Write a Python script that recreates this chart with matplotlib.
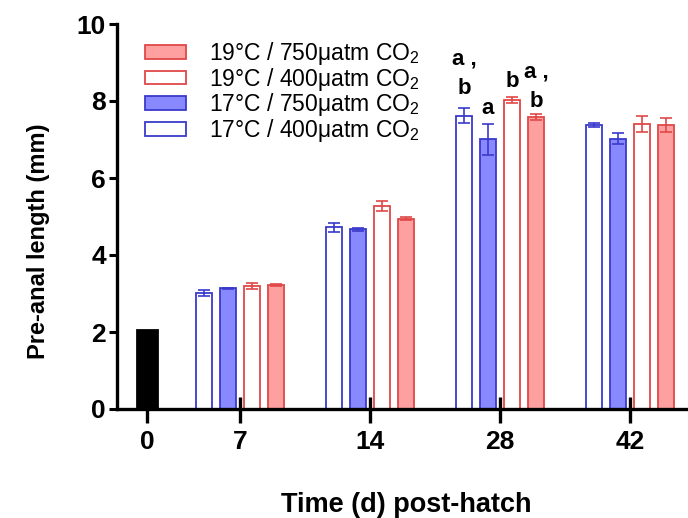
import matplotlib
matplotlib.use("Agg")
from matplotlib import pyplot as plt
from matplotlib.patches import Patch

plt.rcParams['font.family'] = ['Liberation Sans', 'DejaVu Sans']
plt.rcParams['mathtext.fontset'] = 'custom'
plt.rcParams['mathtext.rm'] = 'Liberation Sans'

# data
days = ["0", "7", "14", "28", "42"]
day0_value = 2.05

# order: 17C/400, 17C/750, 19C/400, 19C/750 ; days 7, 14, 28, 42
t17_400 = [3.02, 4.72, 7.62, 7.38]
t17_400_err = [0.08, 0.12, 0.2, 0.05]
t17_750 = [3.13, 4.67, 7.01, 7.02]
t17_750_err = [0.02, 0.04, 0.4, 0.14]
t19_400 = [3.20, 5.27, 8.03, 7.40]
t19_400_err = [0.08, 0.14, 0.08, 0.2]
t19_750 = [3.22, 4.94, 7.58, 7.37]
t19_750_err = [0.03, 0.04, 0.08, 0.18]

# significance letters at day 28
letters = ["a ,\nb", "a", "b", "a ,\nb"]

labels = ["19°C / 750μatm CO$_2$", "19°C / 400μatm CO$_2$",
          "17°C / 750μatm CO$_2$", "17°C / 400μatm CO$_2$"]

# layout
group_x = [1, 2, 3, 4]
day0_x = 0.285
tick_x = [day0_x] + group_x
width = 0.125
offsets = [-0.277, -0.0923, 0.0923, 0.277]

blue_edge = "#3a3acc"
blue_fill = "#8888ff"
red_edge = "#e04848"
red_fill = "#ffa0a0"

series = [
    (t17_400, t17_400_err, "white", blue_edge),
    (t17_750, t17_750_err, blue_fill, blue_edge),
    (t19_400, t19_400_err, "white", red_edge),
    (t19_750, t19_750_err, red_fill, red_edge),
]

fig = plt.figure(figsize=(6.88, 5.18), dpi=100)
ax = fig.add_axes([117/688, 1 - 409/518, 1 - 117/688, 385/518])
ax.set_axisbelow(False)

ax.bar(day0_x, day0_value, width=0.15, color="black", edgecolor="black", linewidth=2)

for (vals, errs, fc, ec), off in zip(series, offsets):
    xs = [g + off for g in group_x]
    ax.bar(xs, vals, width=width, color=fc, edgecolor=ec, linewidth=1.3, zorder=2)
    ax.errorbar(xs, vals, yerr=errs, fmt="none", ecolor=ec, elinewidth=1.2,
                capsize=4, capthick=1.2, zorder=3)

# letters above day 28 bars
letter_y = [8.04, 7.52, 8.23, 7.71]
for off, txt, ly in zip(offsets, letters, letter_y):
    ax.text(3 + off, ly, txt, ha="center", va="bottom", fontsize=16,
            fontweight="bold", linespacing=1.55)

ax.set_xlim(0.054, 4.446)
ax.set_ylim(0, 10)
ax.set_yticks([0, 2, 4, 6, 8, 10])
ax.set_xticks(tick_x)
ax.set_xticklabels(days)
# inward half of the x ticks (ticks crossing the axis)
ax.set_xticks(tick_x, minor=True)
ax.xaxis.remove_overlapping_locs = False

for s in ["top", "right"]:
    ax.spines[s].set_visible(False)
for s in ["left", "bottom"]:
    ax.spines[s].set_linewidth(2.4)
    ax.spines[s].set_zorder(5)

ax.tick_params(axis="y", direction="out", length=6, width=2.2, labelsize=19, pad=2)
ax.tick_params(axis="x", which="major", direction="out", length=10, width=2.4,
               labelsize=19, pad=5)
ax.tick_params(axis="x", which="minor", direction="in", length=9, width=2.4)
for lab in ax.get_xticklabels() + ax.get_yticklabels():
    lab.set_fontweight("bold")

ax.set_ylabel("Pre-anal length (mm)", fontsize=17, fontweight="bold")
ax.yaxis.set_label_coords(-0.118, 0.435)
ax.set_xlabel("Time (d) post-hatch", fontsize=19.5, fontweight="bold")
ax.xaxis.set_label_coords(0.506, -0.215)

handles = [
    Patch(facecolor=red_fill, edgecolor=red_edge, linewidth=1.3),
    Patch(facecolor="white", edgecolor=red_edge, linewidth=1.3),
    Patch(facecolor=blue_fill, edgecolor=blue_edge, linewidth=1.3),
    Patch(facecolor="white", edgecolor=blue_edge, linewidth=1.3),
]
ax.legend(handles, labels, loc="upper left", bbox_to_anchor=(145/688, 1 - 40/518),
          bbox_transform=fig.transFigure, frameon=False, fontsize=16.5,
          handlelength=1.8, handleheight=0.55, handletextpad=1.0,
          labelspacing=-0.06, borderpad=0, borderaxespad=0)

fig.savefig("out.png", dpi=100)
